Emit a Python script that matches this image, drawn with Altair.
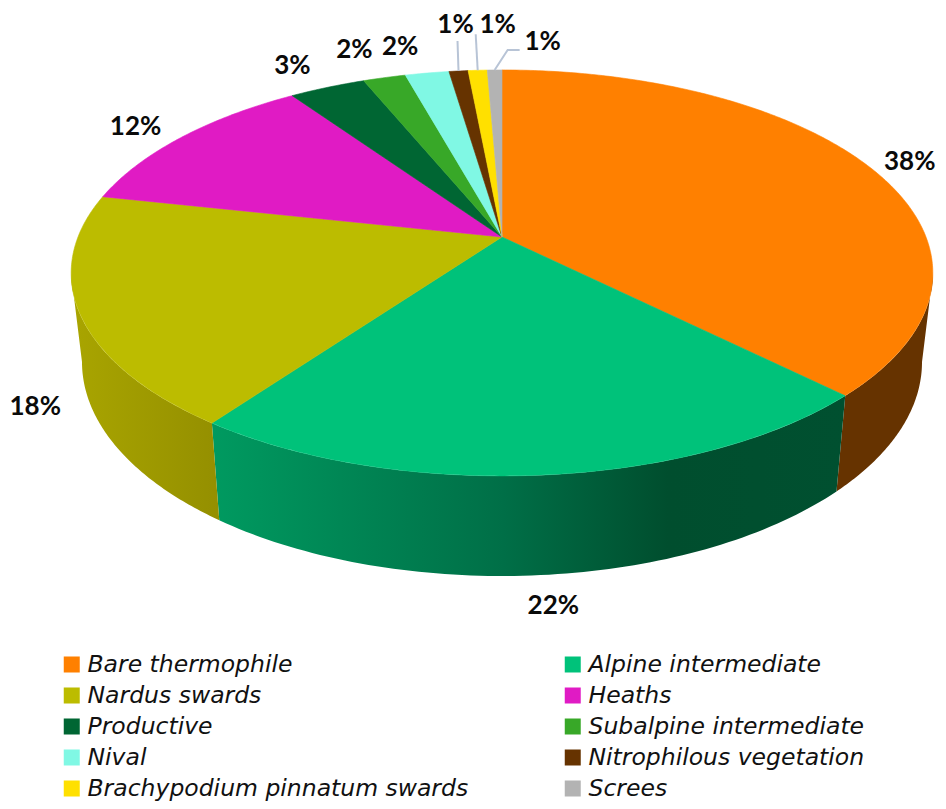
import math
import altair as alt

# ---- data ----
categories = ["Bare thermophile", "Alpine intermediate", "Nardus swards", "Heaths", "Productive",
              "Subalpine intermediate", "Nival", "Nitrophilous vegetation",
              "Brachypodium pinnatum swards", "Screes"]
shares = [37.5, 22.49, 18.46, 12.0, 3.4, 1.9, 1.95, 0.85, 0.85, 0.65]
colors = ["#FF8000", "#00C27A", "#BCBC00", "#E01BC4", "#006633",
          "#38A828", "#80F8E4", "#663300", "#FFE000", "#B3B3B3"]

# ---- layout of the tilted disc (page pixels less the 8px margin) ----
M = 8
APEX = (502 - M, 237 - M)
K, A, B = 0.177, 424.0, 196.6
TOP = dict(cx=502 - M, cy=273 - M, a=431.0, b=203.0)
BOT = dict(cx=502 - M, cy=362 - M, a=420.0, b=214.0)
# label offsets from the rim point in the middle of each slice
label_offsets = [(41, -4), (10, 131), (-44, 95), (-46, -10), (-35, -21),
                 (-30, -28), (-27, -26), (-3, -46), (20, -45), (48, -28)]
# leader bends (offset from the rim point) for the thin slices
leaders = {7: [(-1, -30)], 8: [(-2, -36)], 9: [(13, -20), (25, -20)]}
wall_stops = {
    0: [("#663300", 0), ("#663300", 1)],
    1: [("#009A60", 0), ("#006F47", 0.46), ("#004E2E", 0.72), ("#005030", 1)],
    2: [("#A9A500", 0), ("#948F00", 1)],
}


def rim(theta):
    u, v = math.sin(theta), math.cos(theta)
    d = 1 + K * v
    return APEX[0] + A * u / d, APEX[1] - B * v / d


def phi_of(theta):
    x, y = rim(theta)
    p = math.atan2((y - TOP["cy"]) / TOP["b"], (x - TOP["cx"]) / TOP["a"])
    return p + 2 * math.pi if p < -math.pi / 2 else p


def on(e, p):
    return e["cx"] + e["a"] * math.cos(p), e["cy"] + e["b"] * math.sin(p)


def feature(name, ring):
    ring = [list(pt) for pt in ring] + [list(ring[0])]
    return {"type": "Feature", "properties": {"name": name},
            "geometry": {"type": "Polygon", "coordinates": [ring]}}


total = sum(shares)
edges = [0.0]
for s in shares:
    edges.append(edges[-1] + s / total * 2 * math.pi)

caps, walls, labels, lead_rows = [], [], [], []
for i, name in enumerate(categories):
    t0, t1 = edges[i], edges[i + 1]
    n = max(2, int((t1 - t0) / 0.01))
    caps.append(feature(name, [APEX] + [rim(t0 + (t1 - t0) * j / n) for j in range(n + 1)]))

    p0 = phi_of(t0)
    p1 = phi_of(t1) if t1 < 2 * math.pi - 1e-9 else 3 * math.pi / 2
    lo, hi = max(p0, 0.0), min(p1, math.pi)
    if hi > lo and i in wall_stops:
        ps = [lo + (hi - lo) * j / 80 for j in range(81)]
        walls.append((i, feature(name, [on(TOP, p) for p in ps] + [on(BOT, p) for p in reversed(ps)])))

    mx, my = rim((t0 + t1) / 2)
    dx, dy = label_offsets[i]
    labels.append({"x": mx + dx, "y": my + dy, "text": f"{round(shares[i])}%"})
    if i in leaders:
        lead_rows.append({"k": i, "o": 0, "x": mx, "y": my})
        for o, (lx, ly) in enumerate(leaders[i], 1):
            lead_rows.append({"k": i, "o": o, "x": mx + lx, "y": my + ly})

PROJ = dict(type="identity", scale=1, translate=[0, 0])

wall_layers = [
    alt.Chart(alt.Data(values=[f])).mark_geoshape(
        fill=alt.Gradient(gradient="linear", x1=0, x2=1, y1=0, y2=0,
                          stops=[alt.GradientStop(color=c, offset=o) for c, o in wall_stops[i]]),
        strokeWidth=0,
    ).project(**PROJ)
    for i, f in walls
]

scale = alt.Scale(domain=categories, range=colors)
cap_layer = alt.Chart(alt.Data(values=caps)).mark_geoshape(strokeWidth=0.6).encode(
    color=alt.Color(
        "properties.name:N", scale=scale,
        legend=alt.Legend(
            title=None, orient="none", legendX=52, legendY=641, columns=2, padding=0,
            direction="horizontal",
            symbolType="square", symbolSize=256, symbolStrokeWidth=0, labelOffset=4,
            labelFont="DejaVu Sans", labelFontStyle="italic", labelFontSize=23.5, labelColor="#111111",
            labelLimit=500, rowPadding=0, columnPadding=92, clipHeight=31,
        ),
    ),
    stroke=alt.Stroke("properties.name:N", scale=scale, legend=None),
).project(**PROJ)

leader_layer = alt.Chart(alt.Data(values=lead_rows)).mark_line(
    color="#B8C4D6", strokeWidth=2
).encode(
    x=alt.X("x:Q", scale=None, axis=None),
    y=alt.Y("y:Q", scale=None, axis=None),
    detail="k:N",
    order="o:Q",
)

label_layer = alt.Chart(alt.Data(values=labels)).mark_text(
    font="Lato", fontWeight="bold", fontSize=26, color="#0A0A0A", align="center", baseline="middle"
).encode(
    x=alt.X("x:Q", scale=None, axis=None),
    y=alt.Y("y:Q", scale=None, axis=None),
    text="text:N",
)

chart = alt.layer(*wall_layers, cap_layer, leader_layer, label_layer).properties(
    width=930, height=793, padding=0,
    autosize=alt.AutoSizeParams(type="none", contains="padding"),
).configure_view(stroke=None)

chart.save("out.html", embed_options={"renderer": "svg", "actions": False})
